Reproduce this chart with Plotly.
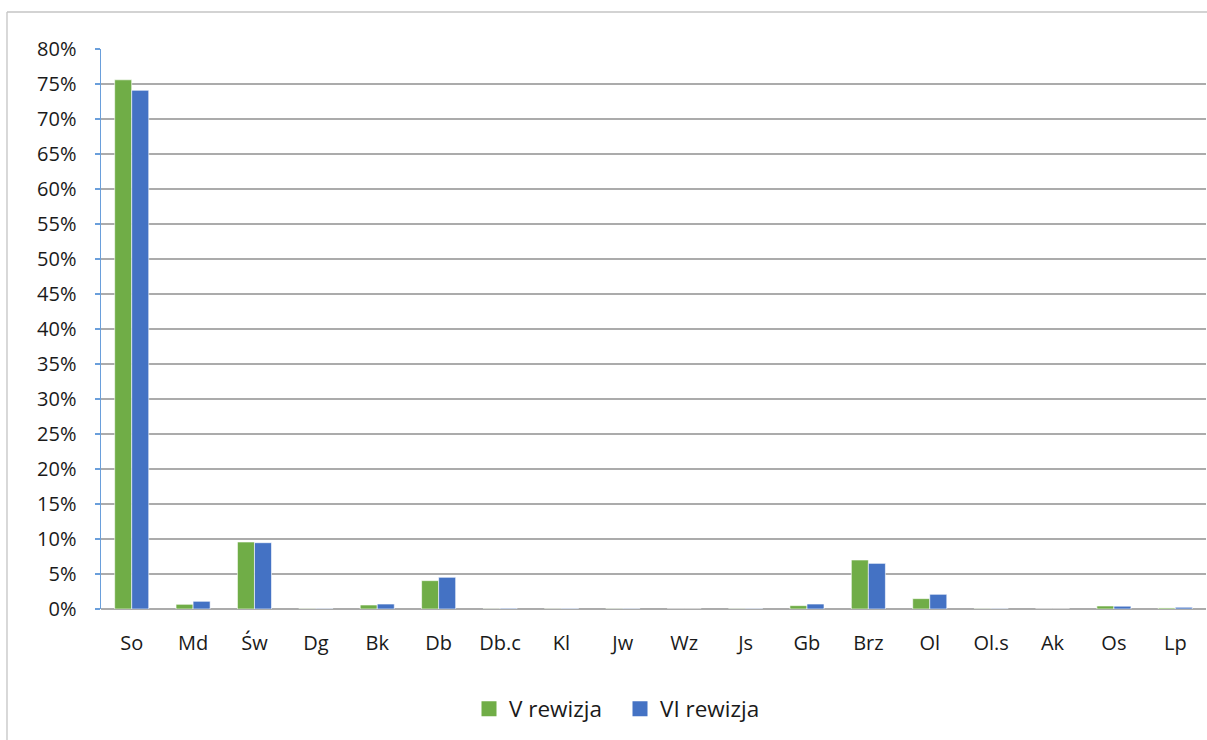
import plotly.graph_objects as go

categories = ["So", "Md", "Św", "Dg", "Bk", "Db", "Db.c", "Kl", "Jw", "Wz", "Js",
              "Gb", "Brz", "Ol", "Ol.s", "Ak", "Os", "Lp"]
v_rewizja = [75.6, 0.67, 9.57, 0.04, 0.57, 4.05, 0.02, 0.02, 0.03, 0.0, 0.03,
             0.48, 7.0, 1.48, 0.03, 0.0, 0.43, 0.15]
vi_rewizja = [74.1, 1.1, 9.47, 0.05, 0.71, 4.53, 0.1, 0.08, 0.05, 0.0, 0.05,
              0.71, 6.52, 2.1, 0.05, 0.0, 0.4, 0.25]
series_names = ["V rewizja", "VI rewizja"]
series_colors = ["#70AD47", "#4472C4"]
y_ticks = list(range(0, 81, 5))

W, H = 1207, 740
L, R, T, B = 101, 1, 49, 131
pw, ph = W - L - R, H - T - B

family = "Open Sans, Noto Sans, sans-serif"
font = dict(family=family, size=20, color="#1a1a1a")

fig = go.Figure()
for name, vals, col in zip(series_names, [v_rewizja, vi_rewizja], series_colors):
    fig.add_trace(go.Bar(name=name, x=categories, y=vals, showlegend=False,
                         marker=dict(color=col, line=dict(color="#ffffff", width=0.6))))
# legend proxies (larger square symbols)
for name, col in zip(series_names, series_colors):
    fig.add_trace(go.Scatter(name=name, x=[None], y=[None], mode="markers",
                             marker=dict(symbol="square", size=15, color=col),
                             showlegend=True))

fig.update_layout(
    width=W, height=H,
    margin=dict(l=L, r=R, t=T, b=B, pad=0),
    paper_bgcolor="white", plot_bgcolor="white",
    barmode="group", bargap=0.445, bargroupgap=0,
    font=font,
    showlegend=True,
    legend=dict(orientation="h", x=(620 - L) / pw, xanchor="center",
                y=-(709 - (T + ph)) / ph, yanchor="middle",
                font=dict(family=family, size=22.5, color="#1a1a1a"),
                itemwidth=30, entrywidth=106, entrywidthmode="pixels",
                tracegroupgap=0, bgcolor="rgba(0,0,0,0)"),
    hovermode=False,
    xaxis=dict(showgrid=False, showline=False, ticks="", tickfont=font,
               ticklabelstandoff=20, zeroline=False),
    yaxis=dict(range=[0, 80], tickvals=y_ticks, ticktext=[f"{v}%" for v in y_ticks],
               showgrid=True, gridcolor="#ABABAB", gridwidth=1.5,
               zeroline=True, zerolinecolor="#ABABAB", zerolinewidth=1.5,
               showline=True, linecolor="#6A9FDB", linewidth=1.5,
               ticks="outside", ticklen=5, tickcolor="#6A9FDB", tickwidth=1.5,
               tickfont=font, ticklabelstandoff=14),
    shapes=[
        dict(type="line", xref="paper", yref="paper",
             x0=(7 - L) / pw, x1=(W + 5 - L) / pw,
             y0=(H - 12 - B) / ph, y1=(H - 12 - B) / ph,
             line=dict(color="#C4C4C4", width=1.3)),
        dict(type="line", xref="paper", yref="paper",
             x0=(7 - L) / pw, x1=(7 - L) / pw,
             y0=(H - 12 - B) / ph, y1=-(B + 5) / ph,
             line=dict(color="#C4C4C4", width=1.3)),
    ],
)

fig.write_html("out.html", config={"displayModeBar": False, "staticPlot": True},
               post_script="document.body.style.margin='0';document.body.style.overflow='hidden';")
